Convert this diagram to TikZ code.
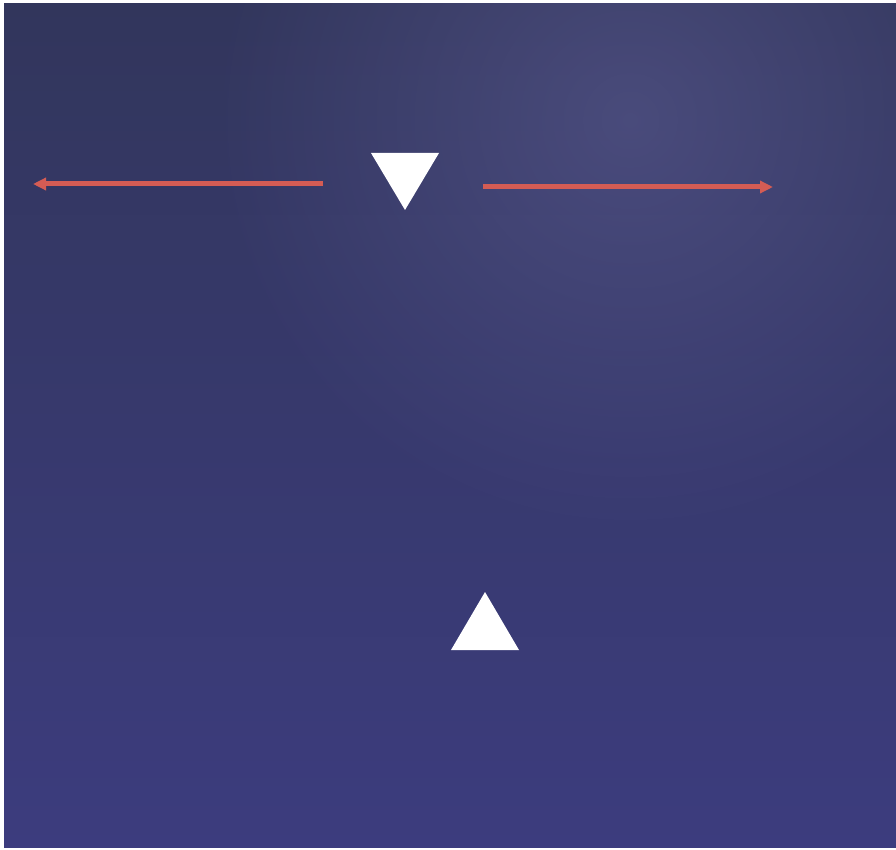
\documentclass[tikz,border=0pt]{standalone}
\usetikzlibrary{fadings,arrows.meta}
\definecolor{bgtop}{RGB}{50,54,92}
\definecolor{bgmid}{RGB}{66,70,130}
\definecolor{bgbot}{RGB}{60,60,126}
\definecolor{glow}{RGB}{92,92,146}
\definecolor{arrowred}{RGB}{212,92,84}
\tikzfading[name=glowfade, inner color=transparent!0, outer color=transparent!100]
\tikzset{
  redarrow/.style={draw=arrowred,line width=5pt,-{Triangle[length=13pt,width=12pt]}},
  marker/.style={fill=white,draw=none}
}
\begin{document}
\begin{tikzpicture}[x=1pt,y=-1pt]
\fill[white] (0,0) rectangle (896,850);
\shade[top color=bgtop,middle color=bgmid,bottom color=bgbot] (4,4) rectangle (896,847);
\begin{scope}
\clip (4,4) rectangle (896,847);
\fill[glow,path fading=glowfade,fill opacity=0.55] (630,120) circle (420);
\end{scope}
\coordinate (lstart) at (323,184);
\coordinate (ltip) at (33,184);
\coordinate (rstart) at (483,187);
\coordinate (rtip) at (773,187);
\draw[redarrow] (lstart) -- (ltip);
\draw[redarrow] (rstart) -- (rtip);
\fill[marker] (371,153) -- (439,153) -- (405,210) -- cycle;
\fill[marker] (485,592) -- (519,650) -- (451,650) -- cycle;
\useasboundingbox (0,0) rectangle (896,850);
\end{tikzpicture}
\end{document}
